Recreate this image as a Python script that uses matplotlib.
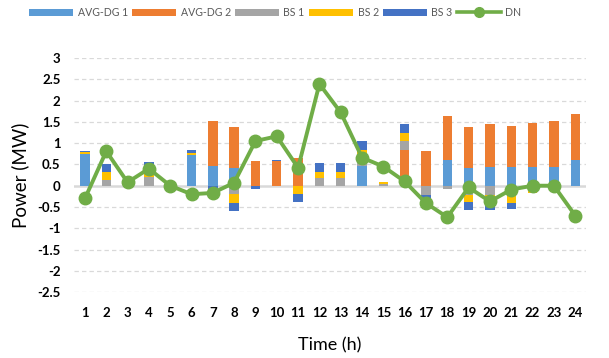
import numpy as np
import matplotlib
matplotlib.use("Agg")
import matplotlib.pyplot as plt
from matplotlib.lines import Line2D
from matplotlib.patches import Patch

hours = list(range(1, 25))
avg_dg1 = [0.75, 0, 0, 0, 0, 0.73, 0.47, 0.42, 0, 0, 0, 0, 0, 0.47, 0, 0,
           0, 0.61, 0.41, 0.45, 0.43, 0.45, 0.45, 0.60]
avg_dg2 = [0, 0, 0, 0, 0, 0, 1.06, 0.95, 0.57, 0.57, 0.64, 0, 0, 0, 0, 0.84,
           0.81, 1.03, 0.96, 1.00, 0.98, 1.02, 1.06, 1.08]
bs1 = [0, 0.13, 0, 0.20, 0, 0, 0, -0.20, 0, 0, 0, 0.19, 0.19, 0.12, 0.03, 0.20,
       -0.22, -0.08, -0.21, -0.22, -0.18, 0, 0, 0]
bs2 = [0.04, 0.19, 0, 0.08, 0, 0.04, 0, -0.20, 0, 0, -0.20, 0.13, 0.13, 0.25, 0.06, 0.20,
       0, 0, -0.18, -0.13, -0.22, -0.18, 0, 0]
bs3 = [0.03, 0.19, 0, 0.28, 0, 0.08, -0.12, -0.19, -0.07, 0.03, -0.19, 0.21, 0.21, 0.21, 0, 0.20,
       -0.16, 0, -0.19, -0.22, -0.14, 0, 0, 0]
dn = [-0.30, 0.81, 0.08, 0.40, 0.00, -0.20, -0.17, 0.07, 1.05, 1.16, 0.42, 2.39, 1.72, 0.66,
      0.45, 0.10, -0.41, -0.74, -0.04, -0.37, -0.09, 0.00, 0.00, -0.70]

series = [("AVG-DG 1", avg_dg1, "#5B9BD5"),
          ("AVG-DG 2", avg_dg2, "#ED7D31"),
          ("BS 1", bs1, "#A5A5A5"),
          ("BS 2", bs2, "#FFC000"),
          ("BS 3", bs3, "#4472C4")]
line_color = "#70AD47"
yticks = [3, 2.5, 2, 1.5, 1, 0.5, 0, -0.5, -1, -1.5, -2, -2.5]

fig = plt.figure(figsize=(6.09, 3.58), dpi=100)
ax = fig.add_axes([0.122, 0.184, 0.840, 0.654])

x = np.arange(len(hours))
pos_bottom = np.zeros(len(hours))
neg_bottom = np.zeros(len(hours))
for name, vals, color in series:
    v = np.array(vals, dtype=float)
    bottom = np.where(v >= 0, pos_bottom, neg_bottom)
    ax.bar(x, v, width=0.44, bottom=bottom, color=color, edgecolor="none", zorder=3)
    pos_bottom += np.where(v > 0, v, 0)
    neg_bottom += np.where(v < 0, v, 0)

ax.plot(x, dn, color=line_color, lw=2.8, marker="o", markersize=9, zorder=5)

ax.set_xlim(-0.5, len(hours) - 0.5)
ax.set_ylim(-2.5, 3)
ax.set_yticks(yticks)
ax.set_yticklabels([f"{t:g}" for t in yticks])
ax.set_xticks(x)
ax.set_xticklabels([str(h) for h in hours])

for t in yticks:
    if t == 0:
        continue
    ax.axhline(t, color="#D9D9D9", lw=0.9, ls=(0, (3.5, 2.5)), zorder=1)
ax.axhline(0, color="#D9D9D9", lw=1.8, zorder=2)

for s in ax.spines.values():
    s.set_visible(False)
ax.tick_params(axis="y", length=0, pad=10)
ax.tick_params(axis="x", length=0, pad=11)
for lbl in ax.get_yticklabels() + ax.get_xticklabels():
    lbl.set_fontfamily("Lato")
    lbl.set_fontweight("bold")
    lbl.set_fontsize(9.5)
    lbl.set_color("#000000")

ax.set_ylabel("Power (MW)", fontsize=13.5, family="Lato", color="#000000", labelpad=6)
ax.set_xlabel("Time (h)", fontsize=13, family="Lato", color="#000000", labelpad=13)

handles = [Patch(facecolor=c, edgecolor="none") for _, _, c in series]
handles.append(Line2D([0], [0], color=line_color, lw=2.6, marker="o", markersize=7))
labels = [n for n, _, _ in series] + ["DN"]
leg = fig.legend(handles, labels, loc="upper left", bbox_to_anchor=(29 / 609, 1 - 7 / 358),
                 ncol=6, frameon=False, borderpad=0, borderaxespad=0,
                 handlelength=4.15, handleheight=0.72, handletextpad=0.45,
                 columnspacing=0.4, prop={"family": "Lato", "size": 7.6})
for t in leg.get_texts():
    t.set_color("#595959")

fig.savefig("out.png", dpi=100)
